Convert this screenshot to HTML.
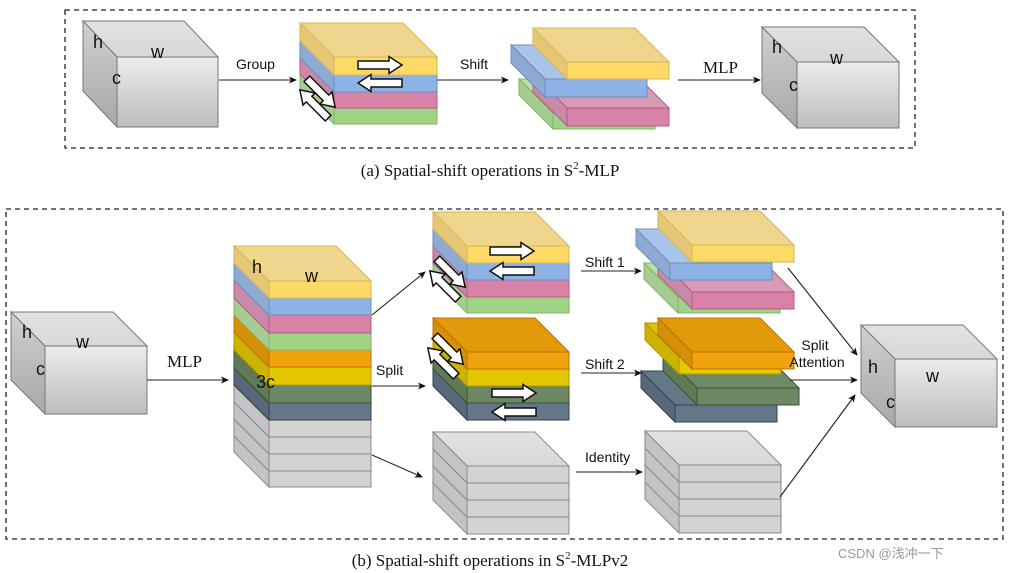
<!DOCTYPE html>
<html><head><meta charset="utf-8"><style>
html,body{margin:0;padding:0;background:#fff;}
svg{display:block;}
.s{font-family:"Liberation Sans",sans-serif;fill:#111;}
.r{font-family:"Liberation Serif",serif;fill:#111;}
</style></head><body>
<svg id="g" width="1012" height="573" viewBox="0 0 1012 573" xmlns="http://www.w3.org/2000/svg">
<defs>
<linearGradient id="cf" x1="0" y1="0" x2="0" y2="1"><stop offset="0" stop-color="#ececec"/><stop offset="1" stop-color="#bdbdbd"/></linearGradient>
<linearGradient id="cs" x1="0" y1="0" x2="0" y2="1"><stop offset="0" stop-color="#d0d0d0"/><stop offset="1" stop-color="#a8a8a8"/></linearGradient>
<linearGradient id="ct" x1="0" y1="0" x2="0" y2="1"><stop offset="0" stop-color="#e2e2e2"/><stop offset="1" stop-color="#d8d8d8"/></linearGradient>
<marker id="ah" markerWidth="8" markerHeight="8" refX="7" refY="4" orient="auto" markerUnits="userSpaceOnUse"><path d="M0,0.5 L8,4 L0,7.5 L2,4 Z" fill="#111"/></marker>
</defs>
<rect x="65" y="10" width="850" height="138" fill="none" stroke="#222" stroke-width="1.3" stroke-dasharray="5,4"/>
<rect x="6" y="209" width="997" height="330" fill="none" stroke="#222" stroke-width="1.3" stroke-dasharray="5,4"/>
<g id="shapes"></g>
<g stroke="#222" stroke-width="1.1" fill="none" marker-end="url(#ah)">
<line x1="219" y1="80" x2="296" y2="80"/>
<line x1="437" y1="80" x2="508" y2="80"/>
<line x1="678" y1="80" x2="760" y2="80"/>
<line x1="147" y1="380" x2="228" y2="380"/>
<line x1="372" y1="315" x2="425" y2="272"/>
<line x1="372" y1="386" x2="425" y2="386"/>
<line x1="372" y1="455" x2="422" y2="477"/>
<line x1="581" y1="271" x2="641" y2="271"/>
<line x1="581" y1="373" x2="641" y2="373"/>
<line x1="576" y1="472" x2="642" y2="472"/>
<line x1="788" y1="268" x2="857" y2="355"/>
<line x1="790" y1="380" x2="857" y2="380"/>
<line x1="780" y1="497" x2="855" y2="395"/>
</g>
<g class="s" font-size="14">
<text x="236" y="69">Group</text>
<text x="460" y="69">Shift</text>
<text x="376" y="375">Split</text>
<text x="585" y="267">Shift 1</text>
<text x="585" y="369">Shift 2</text>
<text x="585" y="462">Identity</text>
<text x="815" y="350" text-anchor="middle">Split</text>
<text x="817" y="367" text-anchor="middle">Attention</text>
</g>
<g class="s" font-size="18">
<text x="93" y="48">h</text><text x="151" y="58">w</text><text x="112" y="84">c</text>
<text x="772" y="53">h</text><text x="830" y="64">w</text><text x="789" y="91">c</text>
<text x="22" y="338">h</text><text x="76" y="348">w</text><text x="36" y="375">c</text>
<text x="252" y="273">h</text><text x="305" y="282">w</text><text x="256" y="388">3c</text>
<text x="868" y="373">h</text><text x="926" y="382">w</text><text x="886" y="408">c</text>
</g>
<g class="r" font-size="17">
<text x="703" y="73">MLP</text>
<text x="167" y="367">MLP</text>
<text x="490" y="176" text-anchor="middle">(a)  Spatial-shift operations in S<tspan font-size="11" dy="-7">2</tspan><tspan dy="7">-MLP</tspan></text>
<text x="490" y="566" text-anchor="middle">(b)  Spatial-shift operations in S<tspan font-size="11" dy="-7">2</tspan><tspan dy="7">-MLPv2</tspan></text>
</g>
<text x="838" y="558" font-family="Liberation Sans,'Noto Sans CJK SC',sans-serif" font-size="13" fill="#999">CSDN @浅冲一下</text>
</svg>
<script>
var C={
y:["#FFD966","#F0D68C","#E6C777","#D6B656"],
b:["#8DB3E6","#A9C4EB","#8FA9D2","#6C8EBF"],
p:["#D882A8","#D79BB8","#C88AA8","#B85A85"],
g:["#9FD487","#B9E0A5","#A5CD91","#82B366"],
o:["#F0A30A","#E39A0A","#D69008","#BD7000"],
d:["#E3C800","#DDC200","#CDB200","#B09500"],
e:["#6D8764","#6F8A66","#5F7A57","#3A5431"],
s:["#647687","#64788A","#56687A","#314354"],
r:["#D3D3D3","url(#ct)","#C4C4C4","#8A8A8A"],
c:["url(#cf)","url(#ct)","url(#cs)","#777"]};
var out="";
function P(pts,f,s){out+='<polygon points="'+pts.join(" ")+'" fill="'+f+'" stroke="'+s+'" stroke-width="1"/>';}
function blk(x,y,w,h,col,dx,dy){dx=dx||-34;dy=dy||-34;var c=C[col];
P([x+','+y,(x+w)+','+y,(x+w+dx)+','+(y+dy),(x+dx)+','+(y+dy)],c[1],c[3]);
P([x+','+y,(x+dx)+','+(y+dy),(x+dx)+','+(y+h+dy),x+','+(y+h)],c[2],c[3]);
out+='<rect x="'+x+'" y="'+y+'" width="'+w+'" height="'+h+'" fill="'+c[0]+'" stroke="'+c[3]+'" stroke-width="1"/>';}
function stack(x,y,w,hs,cols,dx,dy){var yy=y,ys=[];for(var i=0;i<cols.length;i++){ys.push(yy);yy+=hs[i];}
for(var i=cols.length-1;i>=0;i--)blk(x,ys[i],w,hs[i],cols[i],dx,dy);}
function arr(cx,cy,rot,len){len=len||44;var a=len/2,hh=a-13;
out+='<path transform="translate('+cx+','+cy+') rotate('+rot+')" d="M'+(-a)+',-4 L'+hh+',-4 L'+hh+',-8.5 L'+a+',0 L'+hh+',8.5 L'+hh+',4 L'+(-a)+',4 Z" fill="#fff" stroke="#111" stroke-width="1.5"/>';}
// (a)
blk(117,57,101,70,"c",-34,-36);
stack(334,57,103,[18,17,16,16],["y","b","p","g"]);
arr(380,65,0);arr(380,83,180);arr(321,93,45,40);arr(314,104,225,40);
blk(553,113,102,16,"g");blk(567,108,102,18,"p");blk(545,79,102,18,"b");blk(567,62,102,17,"y");
blk(797,62,102,66,"c",-35,-35);
// (b)
blk(45,346,102,68,"c",-34,-34);
stack(269,281,102,[17,17,18,17,17,18,18,17,17,17,17,16],["y","b","p","g","o","d","e","s","r","r","r","r"],-35,-35);
stack(467,246,102,[17,17,17,16],["y","b","p","g"]);
arr(512,251,0);arr(512,271,180);arr(451,273,45,40);arr(444,285,225,40);
stack(467,352,102,[17,17,17,17],["o","d","e","s"]);
arr(449,350,45,40);arr(442,362,225,40);arr(514,393,0);arr(514,412,180);
stack(467,466,102,[17,17,17,17],["r","r","r","r"]);
blk(678,297,102,16,"g");blk(692,292,102,17,"p");blk(670,263,102,17,"b");blk(692,245,102,17,"y");
blk(675,405,102,17,"s");blk(697,388,102,17,"e");blk(679,357,102,17,"d");blk(692,352,102,17,"o");
stack(679,465,102,[17,17,17,17],["r","r","r","r"]);
blk(895,359,102,68,"c",-34,-34);
document.getElementById("shapes").innerHTML=out;
</script>
</body></html>
